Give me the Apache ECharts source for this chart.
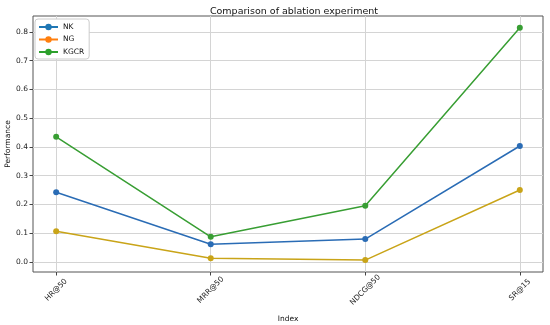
<!DOCTYPE html>
<html><head><meta charset="utf-8">
<script src="https://cdn.jsdelivr.net/npm/echarts@6/dist/echarts.min.js"></script>
<style>html,body{margin:0;padding:0;background:#fff}#c{width:550px;height:325px}</style>
</head><body><div id="c"></div>
<script>
const categories = ['HR@50', 'MRR@50', 'NDCG@50', 'SR@15'];
const seriesNames = ['NK', 'NG', 'KGCR'];
const nk = [0.242, 0.061, 0.079, 0.403];
const ng = [0.106, 0.012, 0.006, 0.250];
const kgcr = [0.435, 0.087, 0.195, 0.815];
const yTicks = [0.0, 0.1, 0.2, 0.3, 0.4, 0.5, 0.6, 0.7, 0.8];

const lineColors = ['#2a6cb5', '#c9a418', '#389e33'];
const legendColors = ['#1f77b4', '#ff7f0e', '#2ca02c'];
const allData = [nk, ng, kgcr];

const chart = echarts.init(document.getElementById('c'));
const font = 'DejaVu Sans';
chart.setOption({
  animation: false,
  backgroundColor: '#fff',
  title: {
    text: 'Comparison of ablation experiment',
    left: 289, top: 2, textAlign: 'center',
    textStyle: {fontFamily: font, fontSize: 9.5, fontWeight: 'normal', color: '#111'}
  },
  legend: {
    orient: 'vertical', left: 35, top: 19,
    itemWidth: 19, itemHeight: 8, itemGap: 4.5,
    padding: [4, 5, 3, 3],
    backgroundColor: '#fff', borderColor: '#ccc', borderWidth: 1, borderRadius: 3,
    textStyle: {fontFamily: font, fontSize: 7.5, color: '#111'},
    data: seriesNames.map((n, i) => ({
      name: n,
      itemStyle: {color: legendColors[i]},
      lineStyle: {color: legendColors[i]}
    }))
  },
  grid: {left: 33, right: 7, top: 16, bottom: 53, outerBoundsMode: 'none', containLabel: false,
    show: true, borderColor: '#555', borderWidth: 1},
  xAxis: {
    type: 'value', min: -0.15, max: 3.15,
    name: 'Index', nameLocation: 'middle', nameGap: 43, nameMoveOverlap: false,
    nameTextStyle: {fontFamily: font, fontSize: 7.5, color: '#111'},
    axisLine: {show: false, onZero: false},
    axisTick: {show: true, customValues: [0, 1, 2, 3], length: 3.5, lineStyle: {color: '#444'}},
    axisLabel: {customValues: [0, 1, 2, 3], rotate: 45, fontFamily: font, fontSize: 7.5, color: '#222',
      align: 'center', verticalAlign: 'middle',
      formatter: v => categories[Math.round(v)], margin: 18},
    splitLine: {show: true, lineStyle: {color: '#d4d4d4', width: 1}}
  },
  yAxis: {
    type: 'value', min: -0.0355, max: 0.8555,
    name: 'Performance', nameLocation: 'middle', nameGap: 21, nameMoveOverlap: false,
    nameTextStyle: {fontFamily: font, fontSize: 7.5, color: '#111'},
    axisLine: {show: false, onZero: false},
    axisTick: {show: true, customValues: yTicks, length: 3.5, lineStyle: {color: '#444'}},
    axisLabel: {customValues: yTicks, fontFamily: font, fontSize: 7.5, color: '#222',
      formatter: v => v.toFixed(1), margin: 5},
    splitLine: {show: true, lineStyle: {color: '#d4d4d4', width: 1}}
  },
  series: seriesNames.map((n, i) => ({
    name: n, type: 'line',
    data: allData[i].map((v, j) => [j, v]),
    symbol: 'circle', symbolSize: 6,
    itemStyle: {color: lineColors[i]},
    lineStyle: {color: lineColors[i], width: 1.5}
  }))
});
</script></body></html>
